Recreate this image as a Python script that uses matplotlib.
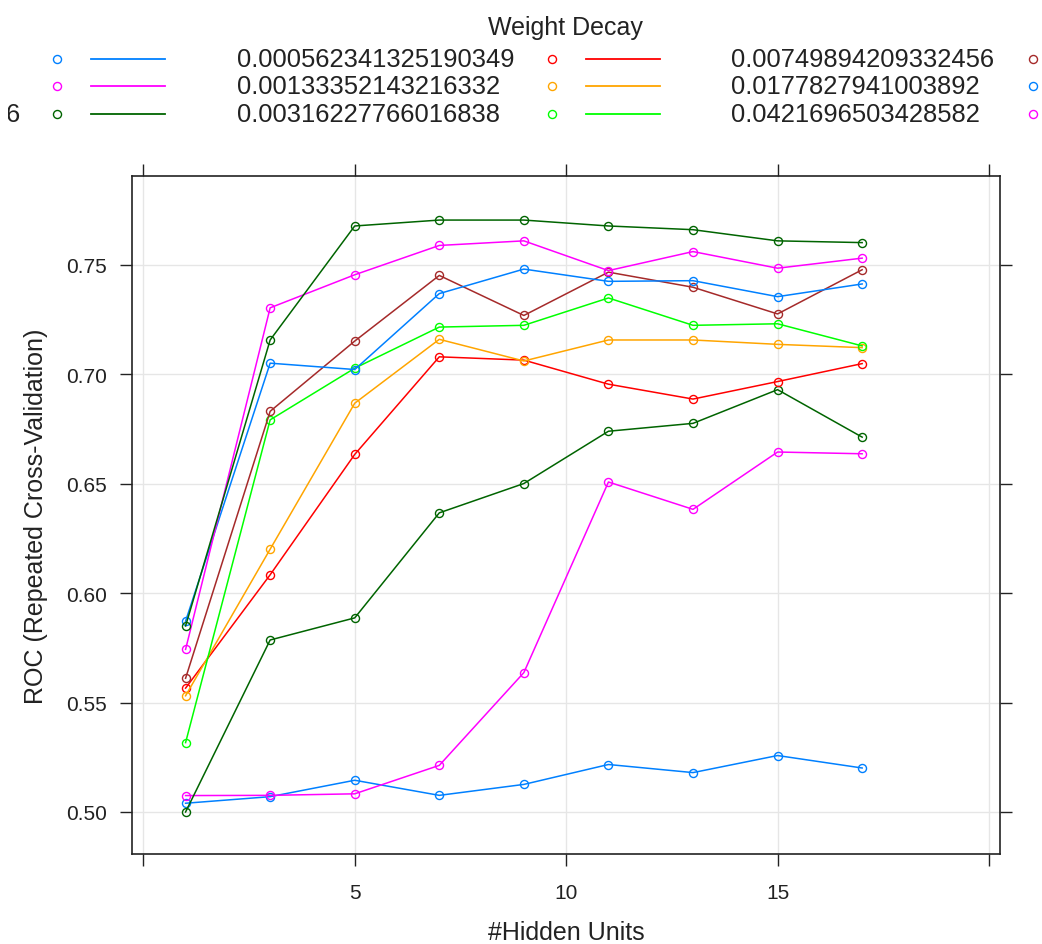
import matplotlib
matplotlib.use("Agg")
import matplotlib.pyplot as plt
from matplotlib.lines import Line2D
from matplotlib.transforms import Bbox, TransformedBbox

plt.rcParams['font.family'] = ['Liberation Sans', 'DejaVu Sans']

# ---- data ----
hidden_units = [1, 3, 5, 7, 9, 11, 13, 15, 17]
decay_labels = ["0", "1e-04", "0.000237137370566166",
                "0.000562341325190349", "0.00133352143216332", "0.00316227766016838",
                "0.00749894209332456", "0.0177827941003892", "0.0421696503428582",
                "0.1"]
colors = ["#0080ff", "#ff00ff", "#006400", "#ff0000", "#ffa500", "#00ff00",
          "#a52a2a", "#0080ff", "#ff00ff", "#006400"]

roc_d0      = [0.504, 0.507, 0.5145, 0.5076, 0.5126, 0.5217, 0.518, 0.5258, 0.5201]
roc_d1e4    = [0.5075, 0.5076, 0.5083, 0.5213, 0.5637, 0.6508, 0.6383, 0.6645, 0.6637]
roc_d2_4e4  = [0.500, 0.5786, 0.5887, 0.6367, 0.6501, 0.674, 0.6776, 0.693, 0.6713]
roc_d5_6e4  = [0.5566, 0.6084, 0.6634, 0.708, 0.7065, 0.6955, 0.6887, 0.6967, 0.7049]
roc_d1_3e3  = [0.5531, 0.6201, 0.6868, 0.716, 0.7061, 0.7157, 0.7157, 0.7137, 0.7122]
roc_d3_2e3  = [0.5317, 0.6792, 0.7028, 0.7216, 0.7224, 0.7349, 0.7224, 0.7231, 0.713]
roc_d7_5e3  = [0.5611, 0.6831, 0.7152, 0.7452, 0.7269, 0.7467, 0.7398, 0.7276, 0.7478]
roc_d1_8e2  = [0.5872, 0.7051, 0.7022, 0.7369, 0.7481, 0.7425, 0.7428, 0.7355, 0.7413]
roc_d4_2e2  = [0.5743, 0.7304, 0.7455, 0.7589, 0.761, 0.7474, 0.7561, 0.7485, 0.7531]
roc_d1e1    = [0.585, 0.7157, 0.7678, 0.7705, 0.7705, 0.7678, 0.7661, 0.761, 0.7602]

series = [roc_d0, roc_d1e4, roc_d2_4e4, roc_d5_6e4, roc_d1_3e3, roc_d3_2e3,
          roc_d7_5e3, roc_d1_8e2, roc_d4_2e2, roc_d1e1]

x_ticks = [0, 5, 10, 15, 20]
x_ticklabels = ["", "5", "10", "15", ""]
y_ticks = [0.50, 0.55, 0.60, 0.65, 0.70, 0.75]
y_ticklabels = ["0.50", "0.55", "0.60", "0.65", "0.70", "0.75"]

# ---- figure ----
W, H = 1042, 945
fig = plt.figure(figsize=(W / 100, H / 100), dpi=100)

def fx(px):
    return px / W

def fy(py):
    return 1 - py / H

TXT = '#222222'
ax = fig.add_axes([fx(132.3), fy(855), fx(1000) - fx(132.3), fy(177.3) - fy(855)])

for vals, c in zip(series, colors):
    ax.plot(hidden_units, vals, color=c, lw=1.1, marker='o', ms=5.8,
            mfc='none', mec=c, mew=1.0, zorder=3)

ax.set_xlim(-0.26, 20.26)
ax.set_ylim(0.4808, 0.7905)
ax.set_xticks(x_ticks)
ax.set_xticklabels(x_ticklabels)
ax.set_yticks(y_ticks)
ax.set_yticklabels(y_ticklabels)
ax.grid(True, color='#e6e6e6', lw=1.0, zorder=0)
ax.set_axisbelow(True)
ax.tick_params(axis='both', direction='out', length=8.6, width=1.0,
               colors=TXT, labelsize=15, labelcolor=TXT)
ax.tick_params(axis='y', pad=9.5)
ax.tick_params(axis='x', pad=12)
ax.tick_params(top=True, right=True, labeltop=False, labelright=False)
for s in ax.spines.values():
    s.set_linewidth(1.2)
    s.set_color(TXT)

ax.set_xlabel("#Hidden Units", fontsize=18, color=TXT, labelpad=13)
ax.set_ylabel("ROC (Repeated Cross-Validation)", fontsize=18, color=TXT, labelpad=13)

# ---- legend (lattice-style key, 4 columns, wider than the figure) ----
fig.text(fx(565), fy(28), "Weight Decay", ha='center', va='center',
         fontsize=18, color=TXT)
row_y = [60, 87, 115]
col_text_x = [-257, 237, 731, 1212]
col_point_x = [57, 552, 1033, 1514]
clip = TransformedBbox(Bbox([[fx(8), 0], [1, 1]]), fig.transFigure)
for i, (lab, c) in enumerate(zip(decay_labels, colors)):
    col, row = divmod(i, 3)
    y = fy(row_y[row])
    t = fig.text(fx(col_text_x[col]), y, lab, ha='left', va='center',
                 fontsize=18.4, color=TXT)
    t.set_clip_box(clip)
    t.set_clip_on(True)
    px = col_point_x[col]
    fig.add_artist(Line2D([fx(px)], [y], marker='o', ms=5.8, mfc='none',
                          mec=c, mew=1.0, transform=fig.transFigure))
    fig.add_artist(Line2D([fx(px + 34), fx(px + 108)], [y, y],
                          color=c, lw=1.3, transform=fig.transFigure))

fig.savefig("out.png", dpi=100)
